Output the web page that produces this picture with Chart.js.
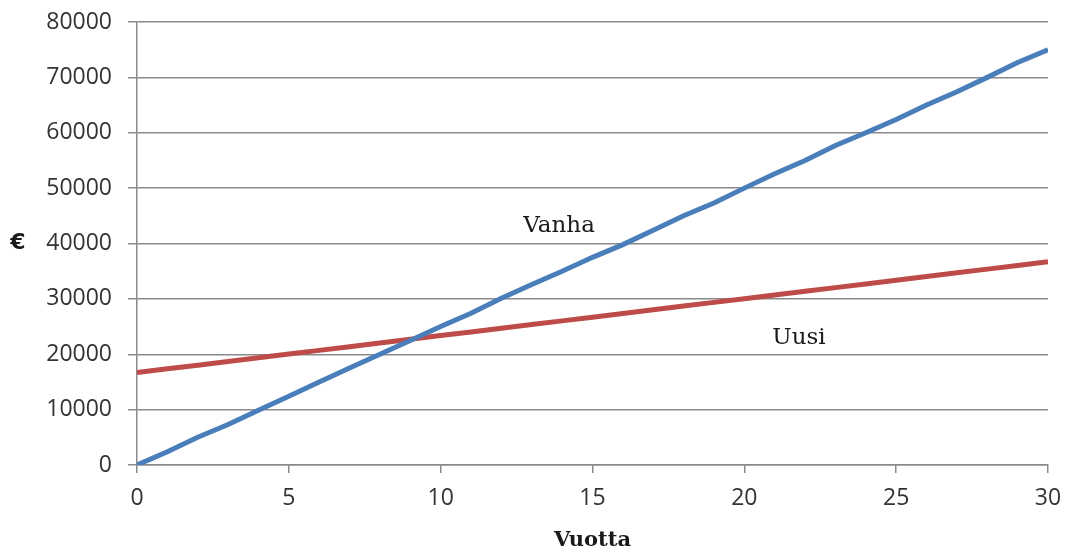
<!DOCTYPE html>
<html>
<head>
<meta charset="utf-8">
<script src="https://cdn.jsdelivr.net/npm/chart.js@4"></script>
<style>
  html, body { margin: 0; padding: 0; background: #fff; }
  #wrap { width: 1067px; height: 553px; }
</style>
</head>
<body>
<div id="wrap"><canvas id="costChart"></canvas></div>
<script>
// years on the x axis
const years = [0,1,2,3,4,5,6,7,8,9,10,11,12,13,14,15,16,17,18,19,20,21,22,23,24,25,26,27,28,29,30];
// old (Vanha) cumulative cost
const vanha = [0,2400,5000,7300,9900,12400,15000,17500,20000,22500,25000,27400,30100,32600,35000,37500,39800,42400,45000,47300,50000,52600,55000,57700,60000,62400,65000,67400,70000,72700,75000];
// new (Uusi) cumulative cost
const uusi = [16700,17370,18030,18700,19370,20030,20700,21370,22030,22700,23370,24030,24700,25370,26030,26700,27370,28030,28700,29370,30030,30700,31370,32030,32700,33370,34030,34700,35370,36030,36700];
const yTicks = [0,10000,20000,30000,40000,50000,60000,70000,80000];
const xTicks = [0,5,10,15,20,25,30];
// in-chart labels: [text, year, value]
const lineLabels = [['Vanha', 13.9, 43200], ['Uusi', 21.8, 22900]];

const tickFont = { family: 'Open Sans', size: 23 };
const gridColor = '#8a8a8a';

// draws the series names and the unrotated euro sign
const labelPlugin = {
    id: 'lineLabels',
    afterDraw(chart) {
        const c = chart.ctx;
        const xs = chart.scales.x, ys = chart.scales.y;
        c.save();
        c.fillStyle = '#1a1a1a';
        c.textAlign = 'center';
        c.textBaseline = 'middle';
        c.font = '23px "DejaVu Serif"';
        lineLabels.forEach(([txt, x, y]) => {
            c.fillText(txt, xs.getPixelForValue(x), ys.getPixelForValue(y));
        });
        c.font = 'bold 22px "DejaVu Sans"';
        c.fillText('€', 18, ys.getPixelForValue(40000));
        c.restore();
    }
};

new Chart(document.getElementById('costChart'), {
    type: 'line',
    data: {
        labels: years,
        datasets: [
            { label: 'Vanha', data: vanha, borderColor: '#4a7ebb', borderWidth: 5, pointRadius: 0, tension: 0 },
            { label: 'Uusi', data: uusi, borderColor: '#be4b48', borderWidth: 5, pointRadius: 0, tension: 0 }
        ]
    },
    options: {
        responsive: true,
        maintainAspectRatio: false,
        animation: false,
        layout: { padding: { top: 22, right: 19, left: 0, bottom: 0 } },
        plugins: { legend: { display: false }, tooltip: { enabled: false } },
        scales: {
            x: {
                type: 'linear',
                min: 0,
                max: 30,
                afterBuildTicks: s => { s.ticks = xTicks.map(v => ({ value: v })); },
                afterFit: s => { s.height = 88; s.paddingLeft = 0; s.paddingRight = 0; },
                grid: { drawOnChartArea: false, color: gridColor, tickLength: 8, lineWidth: 1.5 },
                border: { color: gridColor, width: 1.5 },
                ticks: { font: tickFont, color: '#333', padding: 12, maxRotation: 0, callback: v => String(v) },
                title: { display: true, text: 'Vuotta', color: '#1a1a1a', padding: { top: 2, bottom: 0 },
                         font: { family: 'DejaVu Serif', size: 21, weight: 'bold' } }
            },
            y: {
                min: 0,
                max: 80000,
                afterBuildTicks: s => { s.ticks = yTicks.map(v => ({ value: v })); },
                afterFit: s => { s.width = 137; s.paddingTop = 0; s.paddingBottom = 0; },
                grid: { color: gridColor, tickLength: 9, lineWidth: 1.5 },
                border: { color: gridColor, width: 1.5 },
                ticks: { font: tickFont, color: '#333', padding: 16, callback: v => String(v) }
            }
        }
    },
    plugins: [labelPlugin]
});
</script>
</body>
</html>
